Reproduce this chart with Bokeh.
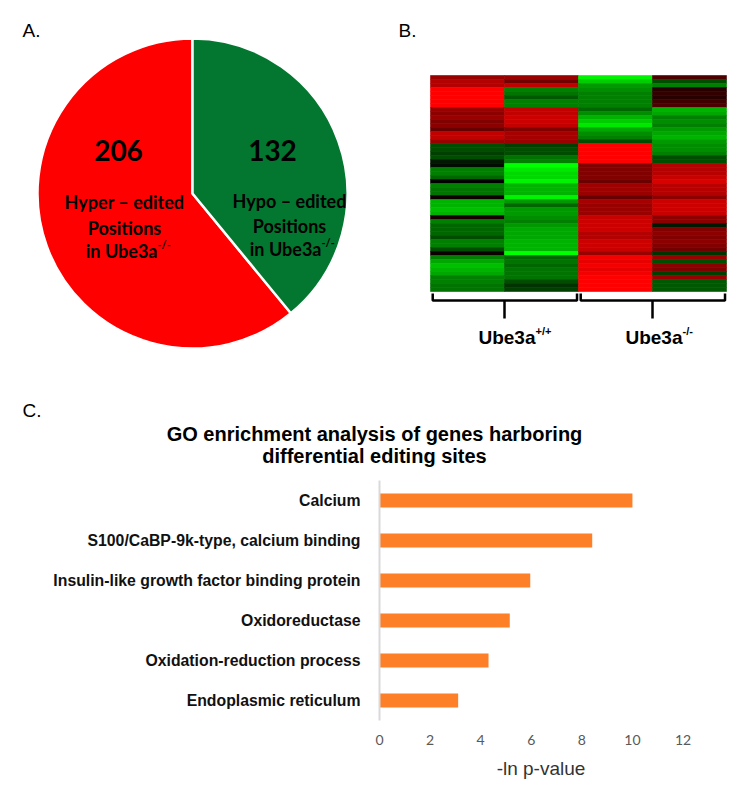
import numpy as np
import pandas as pd
from bokeh.plotting import figure
from bokeh.layouts import column, row
from bokeh.models import Range1d, LinearColorMapper, ColumnDataSource, FactorRange, FixedTicker
from bokeh.core.properties import value
from bokeh.embed import file_html
from bokeh.resources import INLINE

# ---------------- data ----------------
# Panel A: pie
pie_names = ["Hyper – edited", "Hypo – edited"]
pie_counts = [206, 132]
pie_colors = ["#FF0000", "#03772F"]

# Panel B: heatmap (rows top -> bottom), value -1 (green) .. +1 (red)
hm_col1 = [0.6, 0.7, 0.7, 1.0, 1.0, 1.0, 1.0, 1.0, 0.6, 0.55, 0.6, 0.5, 0.55, 0.4, 0.75, 0.75, 0.6, -0.3, -0.3,
           -0.25, -0.3, -0.1, -0.05, -0.5, -0.5, -0.4, 0.0, -0.5, -0.45, -0.45, 0.05, -0.7, -0.7, -0.75, -0.7, 0.1, -0.5,
           -0.4, -0.4, -0.4, -0.3, -0.5, -0.5, -0.3, 0.05, -0.5, -0.65, -0.75, -0.7, -0.65, -0.5, -0.5, -0.45, -0.45]
hm_col2 = [0.6, 0.45, 0.75, -0.5, -0.45, -0.35, -0.5, -0.5, 0.75, 0.75, 0.8, 0.8, 0.75, 0.5, 0.65, 0.65, 0.6, -0.25, -0.3,
           -0.3, -0.45, -0.5, -1.0, -0.9, -0.85, -0.85, -0.95, -0.7, -0.7, -0.7, -0.95, -0.6, -0.4, -0.6, -0.6, -0.55, -0.5,
           -0.6, -0.65, -0.65, -0.65, -0.7, -0.7, -0.7, -1.0, -0.4, -0.45, -0.4, -0.45, -0.45, -0.45, -0.3, -0.2, -0.25]
hm_col3 = [-0.95, -0.8, -0.6, -0.55, -0.5, -0.5, -0.5, -0.5, -0.4, -0.55, -0.7, -0.8, -0.9, -0.65, -0.55, -0.5, -0.3, 1.0, 1.0,
           1.0, 1.0, 1.0, 0.5, 0.5, 0.5, 0.5, 0.42, 0.62, 0.62, 0.6, 0.4, 0.65, 0.6, 0.6, 0.6, 0.78, 0.8,
           0.8, 0.8, 0.7, 0.7, 0.8, 0.8, 0.78, 0.6, 0.95, 0.9, 0.95, 0.9, 0.95, 1.0, 1.0, 1.0, 1.0]
hm_col4 = [0.3, -0.3, -0.5, 0.15, 0.2, 0.15, 0.25, 0.3, -0.7, -0.65, -0.5, -0.55, -0.5, -0.6, -0.65, -0.7, -0.6, -0.55, -0.55,
           -0.5, -0.3, -0.3, 0.7, 0.7, 0.72, 0.78, 0.85, 0.72, 0.72, 0.7, 0.55, 0.8, 0.8, 0.8, 0.78, 0.55, 0.55,
           -0.1, 0.5, 0.55, 0.5, 0.55, 0.5, 0.45, -0.2, 0.6, -0.3, 0.55, 0.5, -0.25, 0.6, -0.35, -0.35, -0.35]
group_names = ["Ube3a", "Ube3a"]
group_sups = ["+/+", "-/-"]
group_spans = [(0, 2), (2, 4)]

# Panel C: bar chart
go_terms = ["Calcium",
            "S100/CaBP-9k-type, calcium binding",
            "Insulin-like growth factor binding protein",
            "Oxidoreductase",
            "Oxidation-reduction process",
            "Endoplasmic reticulum"]
go_values = [10.0, 8.41, 5.96, 5.15, 4.31, 3.11]
x_ticks = [0, 2, 4, 6, 8, 10, 12]
x_label = "-ln p-value"
title_lines = ["GO enrichment analysis of genes harboring", "differential editing sites"]


def bare(p):
    p.xaxis.visible = False
    p.yaxis.visible = False
    p.grid.visible = False
    p.outline_line_color = None
    p.background_fill_color = "white"
    p.border_fill_color = "white"
    return p


TOP_H = 358
# ---------------- Panel A ----------------
A_W = 378
pA = bare(figure(width=A_W, height=TOP_H, x_range=Range1d(0, A_W), y_range=Range1d(0, TOP_H),
                 output_backend="svg", toolbar_location=None, min_border=0))
ax = lambda rx: rx
ay = lambda ry: TOP_H - ry

total = float(sum(pie_counts))
hypo_frac = pie_counts[1] / total
start_green = np.pi / 2 - 2 * np.pi * hypo_frac
pie_src = ColumnDataSource(dict(
    start=[np.pi / 2, start_green],
    end=[np.pi / 2 + 2 * np.pi * pie_counts[0] / total, np.pi / 2],
    color=pie_colors))
pA.wedge(x=ax(192), y=ay(193), radius=155, start_angle="start", end_angle="end",
         fill_color="color", line_color="white", line_width=2.5, source=pie_src)

pA.text(x=[ax(22)], y=[ay(30)], text=["A."], text_font=value("Liberation Sans"),
        text_font_size="19px", text_align="left", text_baseline="middle", text_color="black")

pA.text(x=[ax(118), ax(272)], y=[ay(150), ay(150)], text=[str(c) for c in pie_counts],
        text_font=value("Lato"), text_font_style="bold", text_font_size="28px",
        text_align="center", text_baseline="middle", text_color="black")

lab_x = [ax(124), ax(289)]
pA.text(x=lab_x, y=[ay(201), ay(200)], text=pie_names, text_font=value("Lato"), text_font_style="bold",
        text_font_size="18px", text_align="center", text_baseline="middle", text_color="black")
pA.text(x=lab_x, y=[ay(227), ay(225)], text=["Positions", "Positions"], text_font=value("Lato"),
        text_font_style="bold", text_font_size="18px", text_align="center", text_baseline="middle",
        text_color="black")
end_x = [ax(157), ax(321)]
pA.text(x=end_x, y=[ay(250), ay(248)], text=["in Ube3a", "in Ube3a"], text_font=value("Lato"),
        text_font_style="bold", text_font_size="18px", text_align="right", text_baseline="middle",
        text_color="black")
pA.text(x=end_x, y=[ay(244), ay(242)], text=["-/-", "-/-"], text_font=value("Lato"),
        text_font_style="bold", text_font_size="11px", text_align="left", text_baseline="middle",
        text_color="black")

# ---------------- Panel B ----------------
COL_W, ROW_H = 74.0, 4.0
HM_LEFT_REF, HM_TOP_REF = 430.0, 75.0
B_LEFT_REF, B_TOP_REF = 378.0, 0.0
B_W = 362
bx = lambda rx: (rx - HM_LEFT_REF) / COL_W
by = lambda ry: (ry - HM_TOP_REF) / ROW_H
pB = bare(figure(width=B_W, height=TOP_H,
                 x_range=Range1d(bx(B_LEFT_REF), bx(B_LEFT_REF + B_W)),
                 y_range=Range1d(by(B_TOP_REF + TOP_H), by(B_TOP_REF)),
                 output_backend="svg", toolbar_location=None, min_border=0))

cols = [hm_col1, hm_col2, hm_col3, hm_col4]
recs = []
for ci, cv in enumerate(cols):
    for ri, v in enumerate(cv):
        recs.append(dict(x=ci + 0.5, y=ri + 0.5, v=v))
hm = pd.DataFrame(recs)
palette = []
for t in np.linspace(-1, 1, 256):
    if t < 0:
        palette.append("#%02x%02x%02x" % (0, int(round(255 * -t)), 0))
    else:
        palette.append("#%02x%02x%02x" % (int(round(255 * t)), 0, 0))
mapper = LinearColorMapper(palette=palette, low=-1, high=1)
pB.rect(x="x", y="y", width=1, height=1, source=ColumnDataSource(hm),
        fill_color={"field": "v", "transform": mapper},
        line_color={"field": "v", "transform": mapper}, line_width=0.6)

pB.text(x=[bx(398)], y=[by(30)], text=["B."], text_font=value("Liberation Sans"),
        text_font_size="19px", text_align="left", text_baseline="middle", text_color="black")

yh, yt, ytick = by(300), by(293), by(318)
xs, ys = [], []
for (a, b) in group_spans:
    x0, x1 = a + 0.03, b - 0.02
    xs.append([x0, x0, x1, x1]); ys.append([yt, yh, yh, yt])
    xc = (a + b) / 2.0
    xs.append([xc, xc]); ys.append([yh, ytick])
pB.multi_line(xs=xs, ys=ys, line_color="black", line_width=2.5)

lab_end = [bx(535), bx(682)]
pB.text(x=lab_end, y=[by(337)] * 2, text=group_names, text_font=value("Liberation Sans"),
        text_font_style="bold", text_font_size="19px", text_align="right", text_baseline="middle",
        text_color="black")
pB.text(x=lab_end, y=[by(330)] * 2, text=group_sups, text_font=value("Liberation Sans"),
        text_font_style="bold", text_font_size="11px", text_align="left", text_baseline="middle",
        text_color="black")

# ---------------- Panel C header ----------------
FULL_W = A_W + B_W
H_TOP, H_BOT = TOP_H, 470
pH = bare(figure(width=FULL_W, height=H_BOT - H_TOP, x_range=Range1d(0, FULL_W),
                 y_range=Range1d(0, H_BOT - H_TOP),
                 output_backend="svg", toolbar_location=None, min_border=0))
hx = lambda rx: rx
hy = lambda ry: H_BOT - ry
pH.text(x=[hx(22)], y=[hy(410)], text=["C."], text_font=value("Liberation Sans"),
        text_font_size="19px", text_align="left", text_baseline="middle", text_color="black")
pH.text(x=[hx(374), hx(374)], y=[hy(433), hy(455)], text=title_lines,
        text_font=value("Liberation Sans"), text_font_style="bold", text_font_size="20px",
        text_align="center", text_baseline="middle", text_color="black")

# ---------------- Panel C bars ----------------
FRAME_L, FRAME_W = 379, 323
C_H = 320
pC = figure(width=FULL_W, height=C_H, y_range=FactorRange(factors=go_terms[::-1]),
            x_range=Range1d(0, 12.77), output_backend="svg", toolbar_location=None,
            min_border_left=FRAME_L, min_border_right=FULL_W - FRAME_L - FRAME_W,
            min_border_top=10, min_border_bottom=C_H - 10 - 240)
pC.outline_line_color = None
pC.grid.visible = False
pC.hbar(y=go_terms, left=0, right=go_values, height=0.35, fill_color="#FD7F28", line_color=None)

yax = pC.yaxis[0]
yax.axis_line_color = "#D9D9D9"
yax.axis_line_width = 2
yax.major_tick_line_color = None
yax.minor_tick_line_color = None
yax.major_label_text_font = "Liberation Sans"
yax.major_label_text_font_style = "bold"
yax.major_label_text_font_size = "15.8px"
yax.major_label_text_color = "#111111"
yax.major_label_standoff = 13

xax = pC.xaxis[0]
xax.ticker = FixedTicker(ticks=x_ticks)
xax.axis_line_color = None
xax.major_tick_line_color = None
xax.minor_tick_line_color = None
xax.major_tick_out = 0
xax.major_label_text_font = "Lato"
xax.major_label_text_font_size = "14px"
xax.major_label_text_color = "#595959"
xax.major_label_standoff = 14
xax.axis_label = x_label
xax.axis_label_text_font = "Liberation Sans"
xax.axis_label_text_font_style = "normal"
xax.axis_label_text_font_size = "19px"
xax.axis_label_text_color = "#333333"
xax.axis_label_standoff = 10

layout = column(row(pA, pB), row(pH), pC)
open("out.html", "w").write(file_html(layout, INLINE))
